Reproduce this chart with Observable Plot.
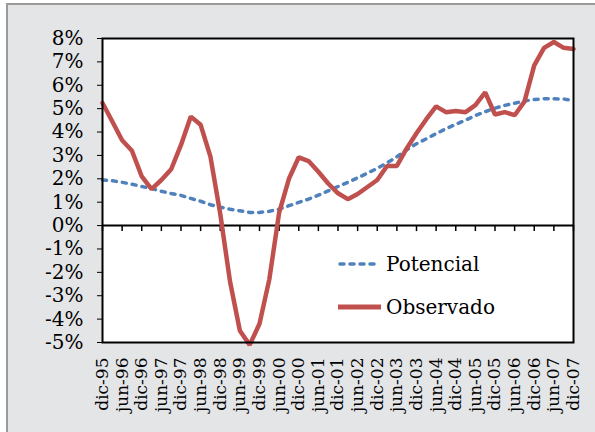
<!DOCTYPE html>
<html>
<head>
<meta charset="utf-8">
<script src="https://cdn.jsdelivr.net/npm/d3@7"></script>
<script src="https://cdn.jsdelivr.net/npm/@observablehq/plot@0.6"></script>
<style>
  body { margin: 0; background: #fff; }
  #wrap { position: relative; width: 595px; height: 432px; overflow: hidden; font-family: "DejaVu Serif", serif; }
  #bg { position: absolute; left: 6px; top: 3px; width: 620px; height: 460px; background: #e4e5e7; border-top: 2px solid #9a9a9a; border-left: 2px solid #9a9a9a; }
  #chart { position: absolute; left: 0; top: 0; }
  #legend { position: absolute; left: 338px; top: 250px; font-size: 20px; color: #000; }
  .row { display: flex; align-items: center; height: 28px; }
  .row + .row { margin-top: 15px; }
  .row svg { margin-right: 5px; }
</style>
</head>
<body>
<div id="wrap">
  <div id="bg"></div>
  <div id="chart"></div>
  <div id="legend"></div>
</div>
<script>
// Quarterly categories
const quarters = [
  "dic-95",
  "mar-96","jun-96","sep-96","dic-96",
  "mar-97","jun-97","sep-97","dic-97",
  "mar-98","jun-98","sep-98","dic-98",
  "mar-99","jun-99","sep-99","dic-99",
  "mar-00","jun-00","sep-00","dic-00",
  "mar-01","jun-01","sep-01","dic-01",
  "mar-02","jun-02","sep-02","dic-02",
  "mar-03","jun-03","sep-03","dic-03",
  "mar-04","jun-04","sep-04","dic-04",
  "mar-05","jun-05","sep-05","dic-05",
  "mar-06","jun-06","sep-06","dic-06",
  "mar-07","jun-07","sep-07","dic-07"
];

// Tick labels (semiannual)
const tickLabels = [
  "dic-95","jun-96","dic-96","jun-97","dic-97","jun-98","dic-98","jun-99","dic-99",
  "jun-00","dic-00","jun-01","dic-01","jun-02","dic-02","jun-03","dic-03",
  "jun-04","dic-04","jun-05","dic-05","jun-06","dic-06","jun-07","dic-07"
];

// Potencial (%)
const potencial = [
  1.95, 1.92, 1.85, 1.77, 1.67, 1.58, 1.47, 1.37, 1.29, 1.16, 1.04, 0.89, 0.79,
  0.70, 0.63, 0.56, 0.56, 0.61, 0.70, 0.85, 0.99, 1.13, 1.30, 1.48, 1.67,
  1.85, 2.04, 2.24, 2.45, 2.68, 2.94, 3.24, 3.50, 3.71, 3.93, 4.14, 4.33,
  4.51, 4.70, 4.87, 5.02, 5.14, 5.23, 5.33, 5.39, 5.42, 5.42, 5.41, 5.35
];

// Observado (%)
const observado = [
  5.24, 4.45, 3.65, 3.20, 2.10, 1.56, 1.95, 2.41, 3.45, 4.66, 4.31, 2.95, 0.50,
  -2.40, -4.50, -5.10, -4.20, -2.30, 0.55, 2.00, 2.92, 2.76, 2.30, 1.80, 1.38,
  1.13, 1.35, 1.65, 1.95, 2.55, 2.55, 3.30, 3.95, 4.55, 5.10, 4.85, 4.90,
  4.85, 5.15, 5.70, 4.75, 4.85, 4.72, 5.30, 6.85, 7.60, 7.85, 7.60, 7.55
];

const yTicks = [-5, -4, -3, -2, -1, 0, 1, 2, 3, 4, 5, 6, 7, 8];

const seriesNames = ["Potencial", "Observado"];
const seriesColors = ["#4f81bd", "#c0504d"];

const data = quarters.map((q, i) => ({ q, pot: potencial[i], obs: observado[i] }));

const chart = Plot.plot({
  width: 595,
  height: 432,
  marginLeft: 102,
  marginRight: 22,
  marginTop: 38,
  marginBottom: 90,
  style: { background: "transparent", fontFamily: "'DejaVu Serif', serif", color: "#000", overflow: "visible" },
  x: { type: "point", domain: quarters, padding: 0 },
  y: { domain: [-5, 8] },
  marks: [
    Plot.frame({ fill: "white", stroke: null }),
    Plot.ruleY([0], { stroke: "black", strokeWidth: 2 }),
    Plot.ruleX(tickLabels, { x: d => d, y1: 0, y2: 0, insetBottom: -6, stroke: "black", strokeWidth: 1.5 }),
    Plot.line(data, { x: "q", y: "pot", stroke: seriesColors[0], strokeWidth: 3.5, strokeDasharray: "4,6", strokeLinecap: "round" }),
    Plot.line(data, { x: "q", y: "obs", stroke: seriesColors[1], strokeWidth: 4.5, strokeLinejoin: "miter" }),
    Plot.frame({ stroke: "black", strokeWidth: 2 }),
    Plot.axisY({ ticks: yTicks, tickFormat: d => d + "%", tickSize: 5, tickPadding: 14, fontSize: 20, stroke: "black", label: null }),
    Plot.axisX({ ticks: tickLabels, tickSize: 0, tickPadding: 15, tickRotate: -90, fontSize: 17, label: null })
  ]
});
document.getElementById("chart").appendChild(chart);

// Legend
const legend = document.getElementById("legend");
seriesNames.forEach((name, i) => {
  const row = document.createElement("div");
  row.className = "row";
  const dash = i === 0 ? 'stroke-dasharray="4,6" stroke-linecap="round" stroke-width="3.5"' : 'stroke-width="5"';
  row.innerHTML = `<svg width="43" height="10"><line x1="${i === 0 ? 2 : 0}" x2="${i === 0 ? 41 : 43}" y1="5" y2="5" stroke="${seriesColors[i]}" ${dash}></line></svg><span>${name}</span>`;
  legend.appendChild(row);
});
</script>
</body>
</html>
